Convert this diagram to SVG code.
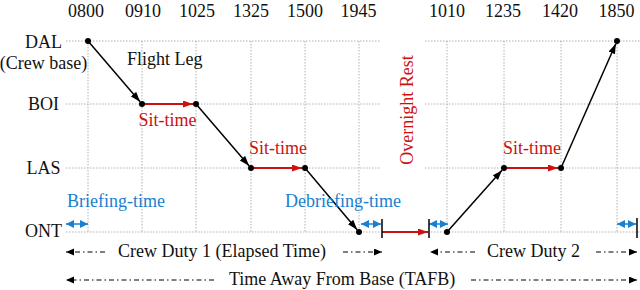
<svg xmlns="http://www.w3.org/2000/svg" width="640" height="290" viewBox="0 0 640 290">
<defs>
<style>
text{font-family:"Liberation Serif","Times New Roman",serif;font-size:18px;fill:#111}
.grid{stroke:#b0b0b0;stroke-width:1;stroke-dasharray:1.5 1.5;fill:none}
.leg{stroke:#000;stroke-width:1.5;fill:none;marker-end:url(#ab)}
.sit{stroke:#cc1111;stroke-width:1.8;fill:none;marker-end:url(#ar)}
.red{fill:#cc1111}
.blue{fill:#1a7fcf}
.brief{stroke:#1a7fcf;stroke-width:1.5;fill:none;marker-start:url(#abl);marker-end:url(#abl)}
.dd{stroke:#000;stroke-width:1.2;stroke-dasharray:5 3 1.5 3;fill:none;marker-end:url(#ad)}
.bar{stroke:#000;stroke-width:1.5}
.mid{text-anchor:middle}
</style>
<marker id="ab" markerUnits="userSpaceOnUse" markerWidth="11" markerHeight="8" refX="10" refY="3.5" orient="auto"><path d="M0,0 L10,3.5 L0,7 z" fill="#000"/></marker>
<marker id="ar" markerUnits="userSpaceOnUse" markerWidth="11" markerHeight="8" refX="10" refY="3.5" orient="auto"><path d="M0,0 L10,3.5 L0,7 z" fill="#cc1111"/></marker>
<marker id="abl" markerUnits="userSpaceOnUse" markerWidth="9" markerHeight="9" refX="8" refY="4" orient="auto-start-reverse"><path d="M0,0 L8,4 L0,8 z" fill="#1a7fcf"/></marker>
<marker id="ad" markerUnits="userSpaceOnUse" markerWidth="9" markerHeight="8" refX="8" refY="3.5" orient="auto-start-reverse"><path d="M0,0 L8,3.5 L0,7 z" fill="#000"/></marker>
</defs>
<g id="grid">
<path class="grid" d="M66,41 H381 M66,104 H381 M66,168 H381 M66,232 H381 M425,41 H640 M425,104 H640 M425,168 H640 M425,232 H640"/>
<path class="grid" d="M88,41 V232 M142,41 V232 M196,41 V232 M251,41 V232 M305,41 V232 M359,41 V232 M447,41 V232 M504,41 V232 M561,41 V232 M617,41 V232"/>
</g>
<g id="time-labels">
<text class="mid" x="86" y="17">0800</text>
<text class="mid" x="143" y="17">0910</text>
<text class="mid" x="197" y="17">1025</text>
<text class="mid" x="251" y="17">1325</text>
<text class="mid" x="305" y="17">1500</text>
<text class="mid" x="358.5" y="17">1945</text>
<text class="mid" x="447" y="17">1010</text>
<text class="mid" x="503" y="17">1235</text>
<text class="mid" x="560" y="17">1420</text>
<text class="mid" x="616.5" y="17">1850</text>
</g>
<g id="airport-labels">
<text class="mid" x="43.5" y="48">DAL</text>
<text class="mid" x="43.5" y="69">(Crew base)</text>
<text class="mid" x="43.5" y="110">BOI</text>
<text class="mid" x="43.5" y="174">LAS</text>
<text class="mid" x="43.5" y="237">ONT</text>
</g>
<g id="connectors">
<line class="leg" x1="88" y1="41" x2="140.05" y2="101.7"/>
<line class="leg" x1="196" y1="104" x2="249" y2="165.7"/>
<line class="leg" x1="305" y1="168" x2="357.1" y2="229.7"/>
<line class="leg" x1="447" y1="232" x2="502" y2="170.2"/>
<line class="leg" x1="561" y1="168" x2="615.8" y2="43.7"/>
<line class="sit" x1="142" y1="104" x2="193" y2="104"/>
<line class="sit" x1="251" y1="168" x2="302" y2="168"/>
<line class="sit" x1="504" y1="168" x2="558" y2="168"/>
<line class="sit" x1="382" y1="232" x2="428" y2="232"/>
<line class="brief" x1="66" y1="224" x2="88" y2="224"/>
<line class="brief" x1="361" y1="224" x2="381" y2="224"/>
<line class="brief" x1="429" y1="224" x2="448" y2="224"/>
<line class="brief" x1="617" y1="224" x2="636" y2="224"/>
<line class="bar" x1="382" y1="219" x2="382" y2="238"/>
<line class="bar" x1="429" y1="219" x2="429" y2="238"/>
<line class="bar" x1="637" y1="218" x2="637" y2="238"/>
<line class="dd" x1="105" y1="252" x2="66" y2="252"/>
<line class="dd" x1="343" y1="252" x2="382" y2="252"/>
<line class="dd" x1="475" y1="252" x2="430" y2="252"/>
<line class="dd" x1="596" y1="252" x2="637" y2="252"/>
<line class="dd" x1="214" y1="280" x2="66" y2="280"/>
<line class="dd" x1="471" y1="280" x2="637" y2="280"/>
</g>
<g id="nodes">
<circle cx="88" cy="41" r="3"/>
<circle cx="142" cy="104" r="3"/>
<circle cx="196" cy="104" r="3"/>
<circle cx="251" cy="168" r="3"/>
<circle cx="305" cy="168" r="3"/>
<circle cx="359" cy="232" r="3"/>
<circle cx="447" cy="232" r="3"/>
<circle cx="504" cy="168" r="3"/>
<circle cx="561" cy="168" r="3"/>
<circle cx="617" cy="41" r="3"/>
</g>
<g id="labels">
<text x="127" y="65">Flight Leg</text>
<text class="red" x="138.5" y="126">Sit-time</text>
<text class="red" x="249" y="154">Sit-time</text>
<text class="red" x="503" y="154">Sit-time</text>
<text class="blue" x="67" y="207">Briefing-time</text>
<text class="blue" x="285" y="207">Debriefing-time</text>
<text class="red mid" transform="translate(413,110) rotate(-90)">Overnight Rest</text>
<text x="118" y="257">Crew Duty 1 (Elapsed Time)</text>
<text x="487" y="257">Crew Duty 2</text>
<text x="229" y="285">Time Away From Base (TAFB)</text>
</g>
</svg>
